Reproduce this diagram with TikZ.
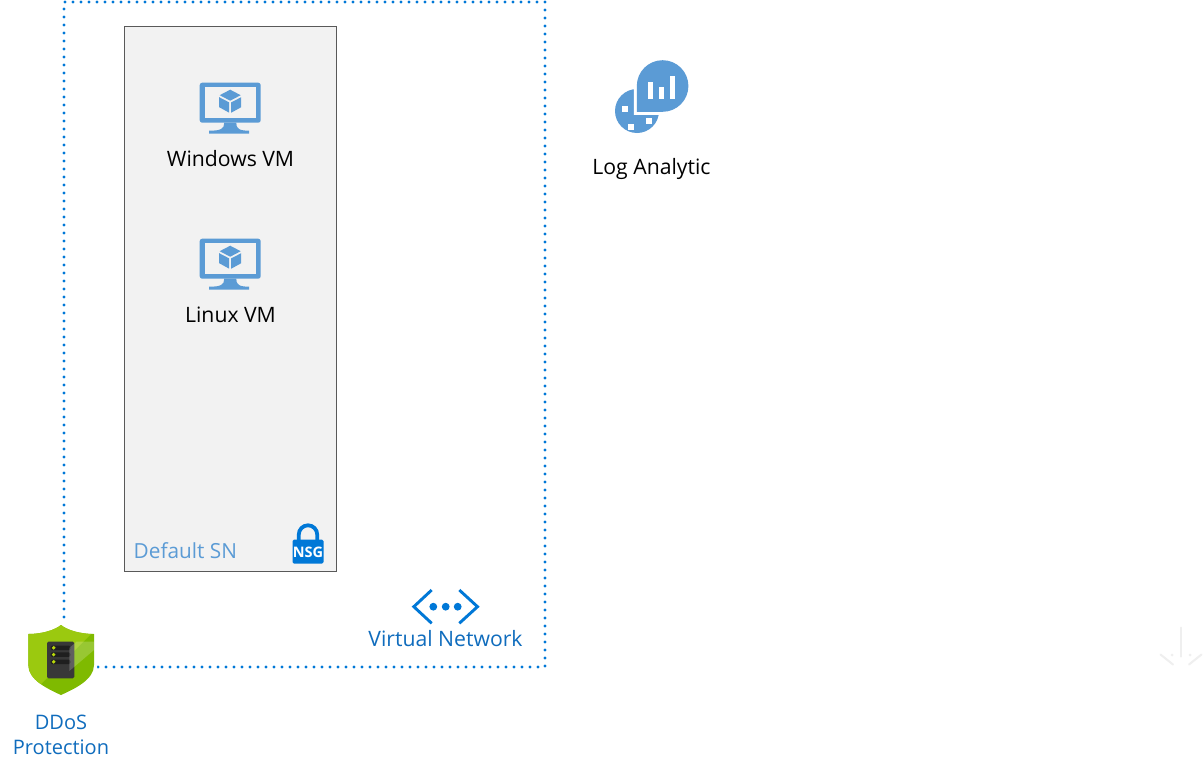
\documentclass[tikz,border=0pt]{standalone}
\usepackage{fontspec}
\setmainfont{Open Sans}
\definecolor{vmblue}{HTML}{5B9BD5}
\definecolor{azblue}{HTML}{0078D7}
\definecolor{labelblue}{HTML}{0F6CBD}
\definecolor{subnetfill}{HTML}{F2F2F2}
\definecolor{faintarrow}{HTML}{EFEFEF}
\definecolor{shdark}{HTML}{7FBA00}
\definecolor{shlight}{HTML}{9BC90F}
\tikzset{
  x=1pt,y=-1pt,
  lbl/.style={inner sep=0pt,font=\fontsize{21.2}{24}\selectfont,text=black,align=center,anchor=base},
  bluelbl/.style={lbl,text=labelblue},
  vnetdots/.style={draw=azblue,line width=3.1pt,line cap=round,dash pattern=on 0pt off 8pt},
  vmicon/.pic={
    \fill[vmblue,rounded corners=2.5] (-30.5,-20) rectangle (30.5,20);
    \fill[subnetfill] (-25.5,-15.5) rectangle (25.5,15);
    \fill[vmblue] (-6,20) .. controls (-6,26) and (-9,28) .. (-21,28) -- (-21,31) -- (19,31) -- (19,28) .. controls (9,28) and (6,26) .. (6,20) -- cycle;
    \fill[vmblue] (0,-13) -- (10.5,-7.5) -- (0,-2) -- (-10.5,-7.5) -- cycle;
    \fill[vmblue] (-11,-5.5) -- (-1,-0.3) -- (-1,10) -- (-11,4.5) -- cycle;
    \fill[vmblue] (11,-5.5) -- (1,-0.3) -- (1,10) -- (11,4.5) -- cycle;
  }
}
\begin{document}
\begin{tikzpicture}
\useasboundingbox (0,0) rectangle (1204,771);
\fill[white] (0,0) rectangle (1204,771);

% virtual network boundary
\coordinate (vnA) at (64,625);
\coordinate (vnB) at (64,2);
\coordinate (vnC) at (545,2);
\coordinate (vnD) at (545,667);
\coordinate (vnE) at (95,667);
\draw[vnetdots] (vnA) -- (vnB) -- (vnC) -- (vnD) -- (vnE);

% subnet
\node[draw=black!65,fill=subnetfill,line width=1pt,minimum width=212pt,minimum height=545pt,inner sep=0pt,anchor=north west] (subnet) at (124,26) {};
\pic at (230.2,102.7) {vmicon};
\pic at (230.2,258.7) {vmicon};
\node[lbl] (winvm) at (230.5,166.5) {Windows VM};
\node[lbl] (linvm) at (230.5,322.5) {Linux VM};
\node[lbl,text=vmblue,anchor=base west,font=\fontsize{20.8}{24}\selectfont] (dsn) at (133.5,558) {Default SN};

% NSG lock
\draw[azblue,line width=3.8pt] (298.8,541) -- (298.8,534.5) arc[start angle=180,end angle=360,radius=9.2] -- (317.2,541);
\fill[azblue,rounded corners=1.5] (292.5,539.5) rectangle (323.5,563.5);
\node[inner sep=0pt,text=white,font=\fontsize{14.5}{16}\selectfont] (nsg) at (308,552) {\textbf{NSG}};

% log analytics
\fill[vmblue] (637,111) circle[radius=22];
\draw[white,line width=6pt,miter limit=10] (636.8,111.8) -- (636.8,86) arc[start angle=180,end angle=450,radius=25.8] -- cycle;
\fill[vmblue] (636.8,111.8) -- (636.8,86) arc[start angle=180,end angle=450,radius=25.8] -- cycle;
\fill[white] (622,106) rectangle (628,112);
\fill[white] (628,124) rectangle (634,130);
\fill[white] (645.7,118) rectangle (651.7,124);
\fill[white] (648,82) rectangle (653.3,99.3);
\fill[white] (658.7,87.3) rectangle (664,99.3);
\fill[white] (670,76) rectangle (675.3,99.3);
\node[lbl] (log) at (651.5,174) {Log Analytic};

% virtual network icon
\begin{scope}[line width=2.9pt]
\draw[azblue] (431.7,590) -- (413.8,606.7) -- (431.7,623.3);
\draw[azblue] (459.3,590) -- (477.5,606.7) -- (459.3,623.3);
\end{scope}
\fill[azblue] (433.3,606.7) circle[radius=3.9];
\fill[azblue] (445.7,606.7) circle[radius=3.9];
\fill[azblue] (457.7,606.7) circle[radius=3.9];
\node[bluelbl] (vnet) at (445.5,646.5) {Virtual Network};

% DDoS shield
\fill[white] (61,622) -- (97,632) -- (97,670) -- (61,698) -- (25,670) -- (25,632) -- cycle;
\path[fill=shdark] (61,625) .. controls (55,630) and (42,634) .. (28.3,634) -- (28.3,665) .. controls (28.3,680) and (48,689) .. (61,695) .. controls (74,689) and (94,680) .. (94,665) -- (94,634) .. controls (80,634) and (67,630) .. (61,625) -- cycle;
\begin{scope}
\clip (61,625) .. controls (55,630) and (42,634) .. (28.3,634) -- (28.3,665) .. controls (28.3,680) and (48,689) .. (61,695) .. controls (74,689) and (94,680) .. (94,665) -- (94,634) .. controls (80,634) and (67,630) .. (61,625) -- cycle;
\fill[shlight] (20,620) -- (100,620) -- (100,625) -- (36,689) -- (20,689) -- cycle;
\end{scope}
\fill[black!78,rounded corners=1.5] (47,641.7) rectangle (74.3,678.3);
\foreach \yy in {647.8,654.6,661.8}{
  \fill[black!88,rounded corners=1.5] (50.5,\yy-2.2) rectangle (70.5,\yy+2.2);
  \fill[shlight!70!yellow] (53.7,\yy) circle[radius=1.9];
}
\fill[white,opacity=.2] (76.5,641.7) -- (94,641.7) -- (94,650) -- (69.3,671) -- (69.3,648) -- cycle;
\node[bluelbl,font=\fontsize{20}{24}\selectfont,align=center] (ddos1) at (61,729) {DDoS};
\node[bluelbl,font=\fontsize{20}{24}\selectfont,align=center] (ddos2) at (61,754.5) {Protection};

% faint arrow
\begin{scope}[faintarrow,line width=2pt,line cap=round]
\draw (1180.7,627.5) -- (1180.7,656.5);
\draw (1160.5,654.5) -- (1173,664.5);
\draw (1201.5,654.5) -- (1189,664.5);
\fill (1172,655) circle[radius=1.5];
\fill (1190,655) circle[radius=1.5];
\end{scope}
\end{tikzpicture}
\end{document}
